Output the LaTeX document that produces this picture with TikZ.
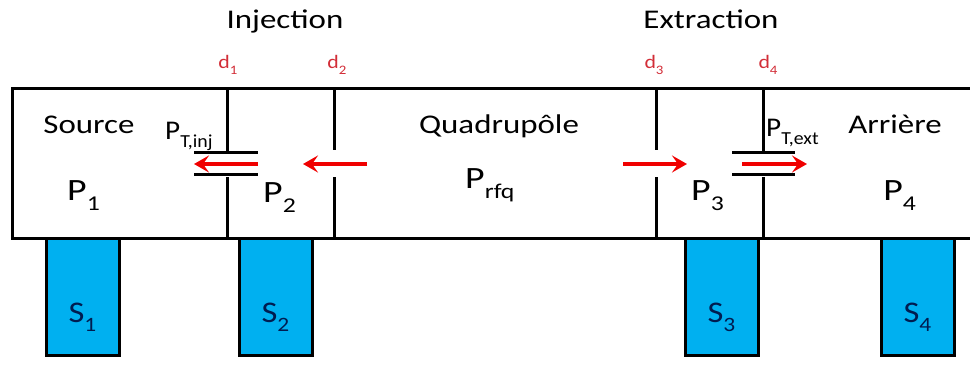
\documentclass[tikz,border=0pt]{standalone}
\usepackage{fontspec}
\setmainfont{Carlito}
\usetikzlibrary{arrows.meta}
\definecolor{pumpblue}{RGB}{0,176,240}
\definecolor{pumptext}{RGB}{0,28,80}
\definecolor{flowred}{RGB}{240,0,0}
\definecolor{gapred}{RGB}{210,45,55}
\newcommand{\dn}[1]{\raisebox{-0.33em}{\scalebox{0.68}{#1}}}

\begin{document}
\begin{tikzpicture}[
    x=1pt, y=-1pt,
    >=Stealth,
    wall/.style={line width=3pt},
    flow/.style={-{Stealth[length=15pt,width=17pt,inset=6pt]}, line width=3.5pt, draw=flowred},
    pump/.style={rectangle, draw, line width=3pt, fill=pumpblue, minimum width=73pt, minimum height=117pt, inner sep=0pt},
    title/.style={font=\fontsize{27}{30}\selectfont, xscale=1.22, inner sep=0pt, anchor=base},
    press/.style={font=\fontsize{31}{34}\selectfont, xscale=1.22, inner sep=0pt, anchor=base west},
    tpress/.style={font=\fontsize{27}{30}\selectfont, xscale=1.08, inner sep=0pt, anchor=base west},
    gap/.style={font=\fontsize{19}{21}\selectfont, xscale=1.15, inner sep=0pt, anchor=base, text=gapred},
    pumplabel/.style={font=\fontsize{30}{32}\selectfont, xscale=1.15, inner sep=0pt, anchor=base, text=pumptext}
]
\useasboundingbox (0,0) rectangle (970,365);

% pumps
\node[pump] (s1) at (82.5,297) {};
\node[pump] (s2) at (275.5,297) {};
\node[pump] (s3) at (721.5,297) {};
\node[pump] (s4) at (917.5,297) {};

% vacuum line and diaphragms
\draw[wall] (970,88) -- (12,88) -- (12,238) -- (970,238);
\draw[wall] (227,88) -- (227,152);
\draw[wall] (227,177) -- (227,238);
\draw[wall] (194,152) -- (258,152);
\draw[wall] (194,174) -- (258,174);
\draw[wall] (334,88) -- (334,150);
\draw[wall] (334,177) -- (334,238);
\draw[wall] (656,88) -- (656,150);
\draw[wall] (656,177) -- (656,238);
\draw[wall] (763,88) -- (763,152);
\draw[wall] (763,177) -- (763,238);
\draw[wall] (732,152) -- (795,152);
\draw[wall] (732,174) -- (795,174);

% flows
\coordinate (f1a) at (258,164);
\coordinate (f1b) at (194,164);
\coordinate (f2a) at (367,164);
\coordinate (f2b) at (303,164);
\coordinate (f3a) at (623,164);
\coordinate (f3b) at (687,164);
\coordinate (f4a) at (742,164);
\coordinate (f4b) at (807,164);
\draw[flow] (f1a) -- (f1b);
\draw[flow] (f2a) -- (f2b);
\draw[flow] (f3a) -- (f3b);
\draw[flow] (f4a) -- (f4b);

% labels
\node[title] (inj) at (285,28) {Injection};
\node[title] (ext) at (711,28) {Extraction};
\node[gap] (d1) at (228,68) {d\dn{1}};
\node[gap] (d2) at (337,68) {d\dn{2}};
\node[gap] (d3) at (654,68) {d\dn{3}};
\node[gap] (d4) at (768,68) {d\dn{4}};
\node[title] (source) at (89,133) {Source};
\node[title] (quad) at (499,133) {Quadrupôle};
\node[title] (arriere) at (895,133) {Arrière};
\node[press] (p1) at (67,200) {P\dn{1}};
\node[tpress] (ptinj) at (165,139) {P\dn{T,inj}};
\node[press] (p2) at (263,202) {P\dn{2}};
\node[press] (prfq) at (465,188) {P\dn{rfq}};
\node[press] (p3) at (691,200) {P\dn{3}};
\node[tpress] (ptext) at (766,136) {P\dn{T,ext}};
\node[press] (p4) at (883,200) {P\dn{4}};
\node[pumplabel] at (82.5,322) {S\dn{1}};
\node[pumplabel] at (275.5,322) {S\dn{2}};
\node[pumplabel] at (721.5,322) {S\dn{3}};
\node[pumplabel] at (917.5,322) {S\dn{4}};
\end{tikzpicture}
\end{document}
